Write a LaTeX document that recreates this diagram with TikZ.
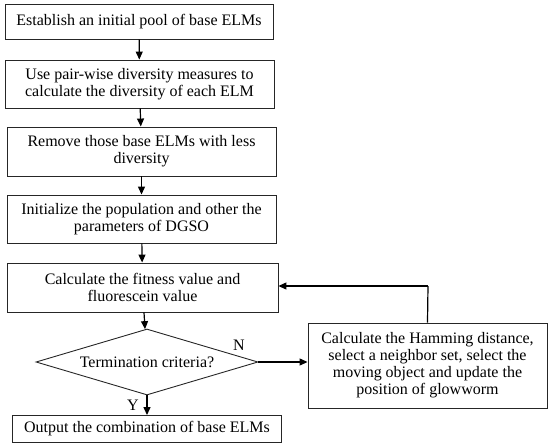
\documentclass[tikz,border=0pt]{standalone}
\usepackage{fontspec}
\setmainfont{Liberation Serif}
\usetikzlibrary{shapes.geometric,arrows.meta}

\begin{document}
\begin{tikzpicture}
[x=1pt, y=1pt,
 every node/.style={inner sep=0pt, font=\fontsize{16}{17}\selectfont, align=center},
 stepbox/.style={rectangle, draw=black!85, line width=0.9pt},
 flow/.style={line width=1.2pt, -{Triangle[length=8pt, width=7pt]}, color=black}]
\useasboundingbox (0,0) rectangle (550,-448);
\node (pool) [stepbox, minimum width=268pt, minimum height=35pt] at (139, -21.5) {Establish an initial pool of base ELMs};
\node (div) [stepbox, minimum width=269pt, minimum height=48pt] at (139.5, -84) {Use pair-wise diversity measures to\\calculate the diversity of each ELM};
\node (remove) [stepbox, minimum width=269pt, minimum height=49pt] at (141.5, -151.5) {Remove those base ELMs with less\\diversity};
\node (init) [stepbox, minimum width=269pt, minimum height=48pt] at (141.5, -219) {Initialize the population and other the\\parameters of DGSO};
\node (fit) [stepbox, minimum width=271pt, minimum height=49pt] at (142.5, -287.5) {Calculate the fitness value and\\fluorescein value};
\node (crit) [diamond, draw=black!85, line width=0.9pt, aspect=3.36, minimum width=222pt, minimum height=66pt] at (147, -362) {Termination criteria?};
\node (out) [stepbox, minimum width=269pt, minimum height=27pt] at (147, -429) {Output the combination of base ELMs};
\node (ham) [stepbox, minimum width=239pt, minimum height=85pt] at (427.5, -365.5) {Calculate the Hamming distance,\\select a neighbor set, select the\\moving object and update the\\position of glowworm};
\node (yes) at (133, -405) {Y};
\node (no) at (239, -345) {N};
\coordinate (back) at (428, -286);
\draw [flow] (pool) to (div);
\draw [flow] (div) to (remove);
\draw [flow] (remove) to (init);
\draw [flow] (init) to (fit);
\draw [flow] (fit) to (crit);
\draw [flow] (crit) to (out);
\draw [flow] (crit.east) to (crit.east -| ham.west);
\draw [line width=1.2pt, color=black] (ham.north) to (back);
\draw [flow] (back) to (back -| fit.east);
\end{tikzpicture}
\end{document}
